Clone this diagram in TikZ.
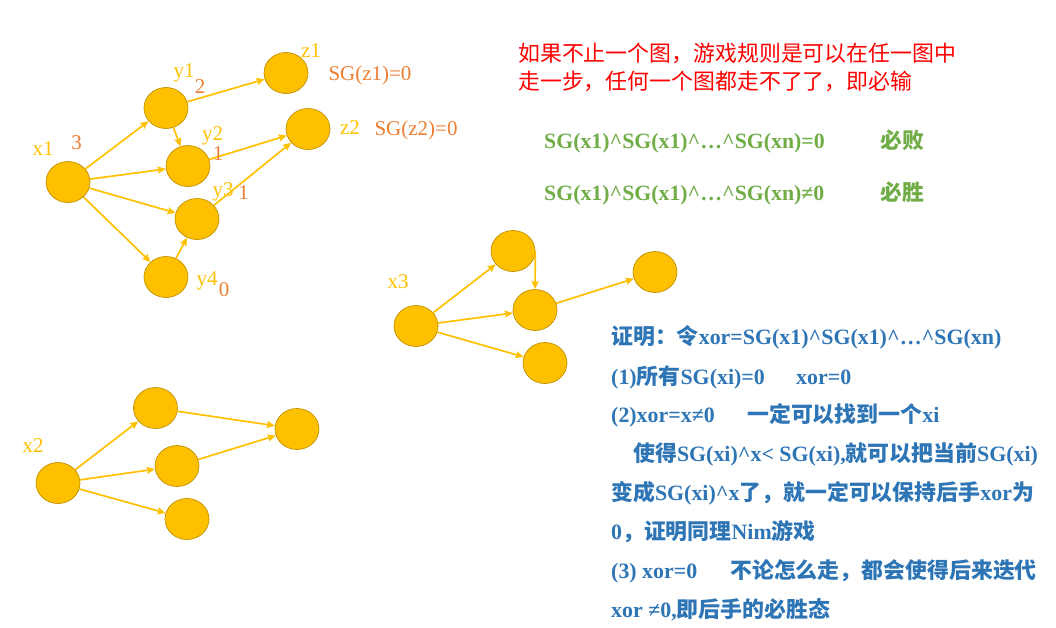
\documentclass[tikz,border=0pt]{standalone}
\usepackage{fontspec}
\setmainfont{Liberation Serif}
\newfontfamily\cjk{Noto Sans CJK SC}
\usetikzlibrary{arrows.meta,shapes.geometric}
\newcommand\cj[1]{{\cjk #1}}
\definecolor{gold}{HTML}{FFC000}
\definecolor{goldline}{HTML}{BF9000}
\definecolor{orng}{HTML}{ED7D31}
\definecolor{grn}{HTML}{70AD47}
\definecolor{blu}{HTML}{2E75B6}
\definecolor{rd}{HTML}{FF0000}
\tikzset{
  vtx/.style={ellipse,fill=gold,draw=goldline,line width=0.7pt,minimum width=44pt,minimum height=41pt,inner sep=0pt},
  edge/.style={draw=gold,line width=1.7pt,-{Stealth[length=8pt,width=7pt,inset=1pt]}},
  ylab/.style={anchor=base,inner sep=0pt,text=gold,font=\fontsize{21}{21}\selectfont},
  olab/.style={anchor=base,inner sep=0pt,text=orng,font=\fontsize{21}{21}\selectfont},
  rtxt/.style={anchor=base west,inner sep=0pt,text=rd,font=\fontsize{21.9}{22}\selectfont},
  gtxt/.style={anchor=base west,inner sep=0pt,text=grn,font=\fontsize{21.8}{22}\selectfont\bfseries},
  btxt/.style={anchor=base west,inner sep=0pt,text=blu,font=\fontsize{21.9}{22}\selectfont\bfseries},
}
\begin{document}
\begin{tikzpicture}[x=1pt,y={(0pt,-1pt)}]
\useasboundingbox (0,0) rectangle (1056,627);
% graph 1
\node[vtx] (x1) at (68,182) {};
\node[vtx] (y1) at (166,108) {};
\node[vtx] (y2) at (188,166) {};
\node[vtx] (y3) at (197,219) {};
\node[vtx] (y4) at (166,277) {};
\node[vtx] (z1) at (286,73) {};
\node[vtx] (z2) at (308,129) {};
\draw[edge] (x1) -- (y1);
\draw[edge] (x1) -- (y2);
\draw[edge] (x1) -- (y3);
\draw[edge] (x1) -- (y4);
\draw[edge] (y1) -- (y2);
\draw[edge] (y1) -- (z1);
\draw[edge] (y2) -- (z2);
\draw[edge] (y3) -- (z2);
\draw[edge] (y4) -- (y3);
\node[ylab] (lx1) at (43,155) {x1};
\node[olab] (n3) at (76.5,149) {3};
\node[ylab] (ly1) at (184,77) {y1};
\node[olab] (n2) at (200,93) {2};
\node[ylab] (ly2) at (212.5,140) {y2};
\node[olab] (n1a) at (218,160.5) {1};
\node[ylab] (ly3) at (223,196.5) {y3};
\node[olab] (n1b) at (243.5,199) {1};
\node[ylab] (ly4) at (207,285) {y4};
\node[olab] (n0) at (224,296.5) {0};
\node[ylab] (lz1) at (311,57) {z1};
\node[olab] (sgz1) at (370,80.5) {SG(z1)=0};
\node[ylab] (lz2) at (350,134) {z2};
\node[olab] (sgz2) at (416,135) {SG(z2)=0};
% graph 2
\node[vtx] (x2) at (58,483) {};
\node[vtx] (p) at (155.5,408) {};
\node[vtx] (q) at (177,466) {};
\node[vtx] (r) at (187,519) {};
\node[vtx] (s) at (297,429) {};
\draw[edge] (x2) -- (p);
\draw[edge] (x2) -- (q);
\draw[edge] (x2) -- (r);
\draw[edge] (p) -- (s);
\draw[edge] (q) -- (s);
\node[ylab] (lx2) at (33,452) {x2};
% graph 3
\node[vtx] (x3) at (416,326) {};
\node[vtx] (a) at (513,251) {};
\node[vtx] (b) at (535,310) {};
\node[vtx] (c) at (545,363) {};
\node[vtx] (d) at (655,272) {};
\draw[edge] (x3) -- (a);
\draw[edge] (x3) -- (b);
\draw[edge] (x3) -- (c);
\draw[edge] (a.east) -- (b.north);
\draw[edge] (b) -- (d);
\node[ylab] (lx3) at (398,288) {x3};
% red text
\node[rtxt] (r1) at (518,61) {\cj{如果不止一个图，游戏规则是可以在任一图中}};
\node[rtxt] (r2) at (518,89) {\cj{走一步，任何一个图都走不了了，即必输}};
% green text
\node[gtxt] (g1) at (544,148) {SG(x1)\textasciicircum SG(x1)\textasciicircum…\textasciicircum SG(xn)=0};
\node[gtxt] (g1b) at (880,148) {\cj{必败}};
\node[gtxt] (g2) at (544,200) {SG(x1)\textasciicircum SG(x1)\textasciicircum…\textasciicircum SG(xn)≠0};
\node[gtxt] (g2b) at (880,200) {\cj{必胜}};
% blue text
\node[btxt] (b1) at (611,344) {\cj{证明：令}xor=SG(x1)\textasciicircum SG(x1)\textasciicircum…\textasciicircum SG(xn)};
\node[btxt] (b2) at (611,384) {(1)\cj{所有}SG(xi)=0};
\node[btxt] (b2b) at (796,384) {xor=0};
\node[btxt] (b3) at (611,422) {(2)xor=x≠0};
\node[btxt] (b3b) at (747,422) {\cj{一定可以找到一个}xi};
\node[btxt] (b4) at (633,461) {\cj{使得}SG(xi)\textasciicircum x< SG(xi),\cj{就可以把当前}SG(xi)};
\node[btxt] (b5) at (611,500) {\cj{变成}SG(xi)\textasciicircum x\cj{了，就一定可以保持后手}xor\cj{为}};
\node[btxt] (b6) at (611,539) {0\cj{，证明同理}Nim\cj{游戏}};
\node[btxt] (b7) at (611,578) {(3) xor=0};
\node[btxt] (b7b) at (730,578) {\cj{不论怎么走，都会使得后来迭代}};
\node[btxt] (b8) at (611,617) {xor ≠0,\cj{即后手的必胜态}};
\end{tikzpicture}
\end{document}
